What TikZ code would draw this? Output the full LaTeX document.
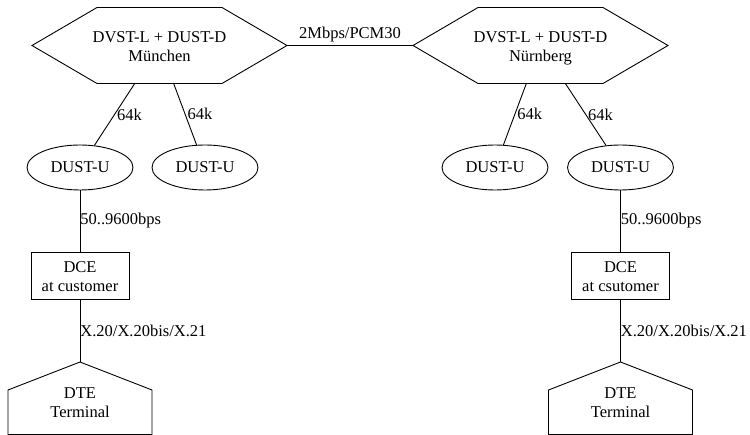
\documentclass[tikz,border=0pt]{standalone}
\usepackage{fontspec}
\setmainfont{Liberation Serif}
\usetikzlibrary{calc}
\usetikzlibrary{shapes.geometric}
\tikzstyle{hubnode} = [rectangle, minimum width=255pt, minimum height=76pt, inner sep=0pt, outer sep=0pt, text height=32pt, text depth=0pt, align=center]
\tikzstyle{unode} = [draw, ellipse, minimum width=106pt, minimum height=45pt, inner sep=0pt]
\tikzstyle{dcenode} = [draw, rectangle, minimum width=98pt, minimum height=47pt, inner sep=0pt, text height=32pt, text depth=0pt, align=center]
\tikzstyle{dtenode} = [rectangle, minimum width=144pt, minimum height=72.5pt, inner sep=0pt, outer sep=0pt, text height=38pt, text depth=0pt, align=center]
\tikzstyle{ratelabel} = [right, inner sep=0pt]
\tikzstyle{linklabel} = [right, inner sep=2pt]

\begin{document}
\begin{tikzpicture}[x=1pt, y=1pt, line width=0.9pt, font=\fontsize{16.5}{19}\selectfont]
    \useasboundingbox (0,0) rectangle (750,-435);

    \node[hubnode] (muc_hub) at (159.5,-45.5) {DVST-L + DUST-D\\München};
    \node[hubnode] (nue_hub) at ($(muc_hub)+(381,0)$) {DVST-L + DUST-D\\Nürnberg};
    \draw (muc_hub.west) -- ($(muc_hub.north west)+(65,0)$) -- ($(muc_hub.north east)+(-65,0)$) -- (muc_hub.east) -- ($(muc_hub.south east)+(-65,0)$) -- ($(muc_hub.south west)+(65,0)$) -- cycle;
    \draw (nue_hub.west) -- ($(nue_hub.north west)+(65,0)$) -- ($(nue_hub.north east)+(-65,0)$) -- (nue_hub.east) -- ($(nue_hub.south east)+(-65,0)$) -- ($(nue_hub.south west)+(65,0)$) -- cycle;
    \draw (muc_hub) -- node[above, inner sep=3pt] {2Mbps/PCM30} (nue_hub);

    \node[unode] (muc_u_one) at ($(muc_hub)+(-79.5,-122)$) {DUST-U};
    \node[unode] (muc_u_two) at ($(muc_hub)+(45.5,-122)$) {DUST-U};
    \draw (muc_hub) -- node[linklabel] {64k} (muc_u_one);
    \draw (muc_hub) -- node[linklabel] {64k} (muc_u_two);

    \node[unode] (nue_u_one) at ($(nue_hub)+(-45.5,-122)$) {DUST-U};
    \node[unode] (nue_u_two) at ($(nue_hub)+(80,-122)$) {DUST-U};
    \draw (nue_hub) -- node[linklabel] {64k} (nue_u_one);
    \draw (nue_hub) -- node[linklabel] {64k} (nue_u_two);

    \node[dcenode] (muc_dce) at ($(muc_u_one)+(0,-108)$) {DCE\\at customer};
    \node[dcenode] (nue_dce) at ($(nue_u_two)+(0,-108)$) {DCE\\at csutomer};
    \draw (muc_u_one) -- node[ratelabel] {50..9600bps} (muc_dce);
    \draw (nue_u_two) -- node[ratelabel] {50..9600bps} (nue_dce);

    \node[dtenode] (muc_dte) at ($(muc_dce)+(0,-122.75)$) {DTE\\Terminal};
    \node[dtenode] (nue_dte) at ($(nue_dce)+(0,-122.75)$) {DTE\\Terminal};
    \draw (muc_dte.south west) -- ($(muc_dte.north west)+(0,-28)$) -- (muc_dte.north) -- ($(muc_dte.north east)+(0,-28)$) -- (muc_dte.south east) -- cycle;
    \draw (nue_dte.south west) -- ($(nue_dte.north west)+(0,-28)$) -- (nue_dte.north) -- ($(nue_dte.north east)+(0,-28)$) -- (nue_dte.south east) -- cycle;
    \draw (muc_dce) -- node[ratelabel] {X.20/X.20bis/X.21} (muc_dte);
    \draw (nue_dce) -- node[ratelabel] {X.20/X.20bis/X.21} (nue_dte);
\end{tikzpicture}
\end{document}
